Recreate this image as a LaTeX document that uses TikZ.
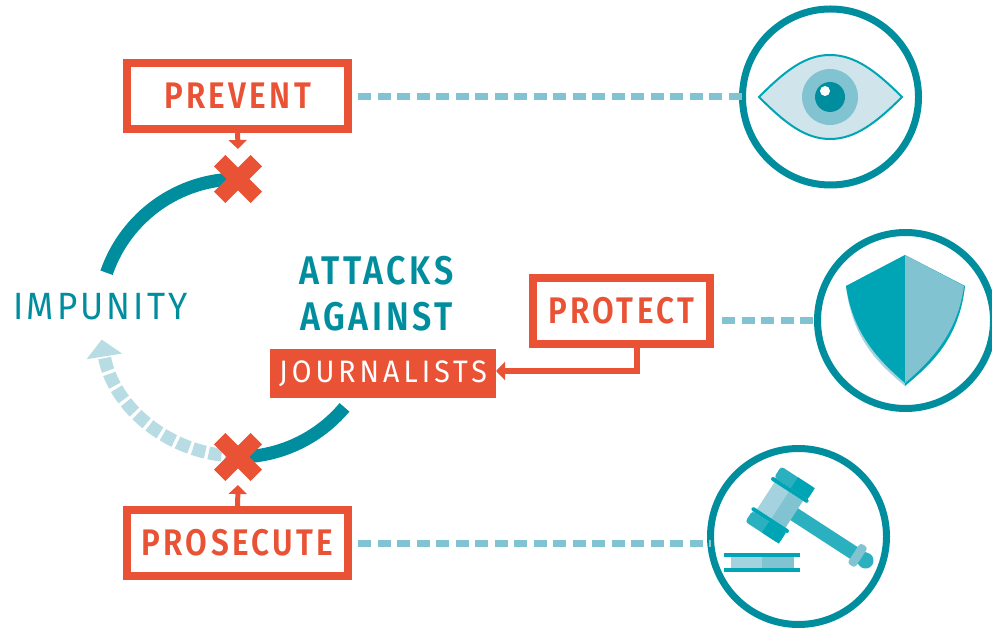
\documentclass[tikz,border=0pt]{standalone}
\usepackage{fontspec}
\usetikzlibrary{arrows.meta,shapes.misc}
\newfontfamily\boldfont[FakeStretch=0.85,LetterSpace=9]{Fira Sans SemiBold}
\newfontfamily\thinfont[FakeStretch=0.92,LetterSpace=8]{Fira Sans}
\newfontfamily\widefont[FakeStretch=0.92,LetterSpace=13]{Fira Sans}
\definecolor{teal1}{HTML}{008E9E}
\definecolor{teal2}{HTML}{00A5B5}
\definecolor{teal3}{HTML}{2BB0BF}
\definecolor{teal4}{HTML}{82C3D1}
\definecolor{teal5}{HTML}{A4D2DE}
\definecolor{teal6}{HTML}{D0E5EB}
\definecolor{dashlight}{HTML}{B8DCE4}
\definecolor{red1}{HTML}{E95235}
\begin{document}
\begin{tikzpicture}[x=1pt,y=1pt,inner sep=0pt,outer sep=0pt,
actionbox/.style={draw=red1,fill=white,rectangle,line width=8pt,minimum height=66pt,text=red1,font=\boldfont\fontsize{37}{40}\selectfont},
iconring/.style={draw=teal1,fill=white,circle,line width=7pt,minimum size=176pt},
stopmark/.style={cross out,draw=red1,line width=16pt,minimum size=36.7pt},
redarrow/.style={red1,line width=5pt,-{Triangle[width=18pt,length=9pt]}},
linkline/.style={teal4,line width=7pt,dash pattern=on 13pt off 6.5pt},
cyclearc/.style={teal1,line width=13pt}]
\useasboundingbox (0,0) rectangle (992,629);

\coordinate (cycle) at (238,311);
\draw[cyclearc] ([shift={(161:139)}]cycle) arc (161:90:139);
\draw[cyclearc] ([shift={(-40:139)}]cycle) arc (-40:-90:139);
\draw[dashlight,line width=13pt,dash pattern=on 13pt off 3.5pt,-{Triangle[width=35pt,length=17pt]}] ([shift={(270:138)}]cycle) arc (270:189:138);

\draw (237.5,533) node[actionbox,minimum width=221pt] (prevent) {PREVENT};
\draw (621.5,318) node[actionbox,minimum width=177pt] (protect) {PROTECT};
\draw (237.5,86) node[actionbox,minimum width=221pt] (prosecute) {PROSECUTE};
\draw (383,255.5) node[fill=red1,minimum width=226pt,minimum height=49pt,text=white,font=\widefont\fontsize{31}{32}\selectfont] (journalists) {JOURNALISTS};
\draw (376.5,335) node[align=center,text=teal1,font=\boldfont\fontsize{40}{46}\selectfont] (attacks) {ATTACKS\\AGAINST};
\draw (100.5,322.5) node[text=teal1,font=\thinfont\fontsize{38}{40}\selectfont] (impunity) {IMPUNITY};
\draw (238,450) node[stopmark] (stop1) {};
\draw (238,172) node[stopmark] (stop2) {};
\draw (830.5,532) node[iconring] (eye) {};
\draw (905.5,308.5) node[iconring] (shield) {};
\draw (798.5,92.5) node[iconring] (gavel) {};

\draw[redarrow] (prevent.south) -- (stop1.north |- 0,480);
\draw[redarrow] (prosecute.north) -- (stop2.south |- 0,144);
\draw[redarrow,line width=6pt] ([xshift=15.5pt]protect.south) |- ([yshift=2.5pt]journalists.east);
\draw[linkline,shorten <=10pt] (eye.west -| prevent.east) -- (eye.west);
\draw[linkline,shorten <=12pt] (protect.east |- shield.west) -- (shield.west);
\draw[linkline,shorten <=10pt] (prosecute.east) -- (prosecute.east -| gavel.west);

\filldraw[fill=teal6,draw=teal2,line width=2pt] (759,532) .. controls (785,558) and (805,574) .. (830,574) .. controls (855,574) and (876,558) .. (902,532) .. controls (876,506) and (855,490) .. (830,490) .. controls (805,490) and (785,506) .. (759,532) -- cycle;
\fill[teal4] (830,532) circle (28);
\fill[teal1] (830,532) circle (15);
\fill[white] (825,538) circle (5);

\fill[teal5] (905,374) -- (846,343) .. controls (852,289) and (880,264) .. (905,243) -- cycle;
\fill[teal2] (905,374) -- (846,343) .. controls (853,293) and (882,266) .. (905,246) -- cycle;
\fill[teal2] (905,374) -- (965,343) .. controls (959,289) and (930,264) .. (905,243) -- cycle;
\fill[teal4] (905,374) -- (964,343) .. controls (957,293) and (928,266) .. (905,246) -- cycle;

\begin{scope}[shift={(780,124)},rotate=-33]
\fill[teal3] (16,-7) rectangle (100,7);
\fill[teal3] (102,0) circle (8);
\fill[teal4,rounded corners=3pt] (88,-12) rectangle (97,12);
\fill[teal3,rounded corners=3pt] (-20,20) rectangle (20,33);
\fill[teal3,rounded corners=3pt] (-20,-33) rectangle (20,-20);
\fill[teal2] (0,20) rectangle (20,33);
\fill[teal2] (0,-33) rectangle (20,-20);
\fill[teal5] (-17,-16) rectangle (0,16);
\fill[teal4] (0,-16) rectangle (17,16);
\fill[teal2,rounded corners=2pt] (-22,16) rectangle (22,20);
\fill[teal2,rounded corners=2pt] (-22,-20) rectangle (22,-16);
\end{scope}
\fill[teal2] (724,72) rectangle (800,76);
\fill[teal2] (724,57) rectangle (800,61);
\fill[teal5] (731,61) rectangle (762,72);
\fill[teal4] (762,61) rectangle (794,72);
\end{tikzpicture}
\end{document}
